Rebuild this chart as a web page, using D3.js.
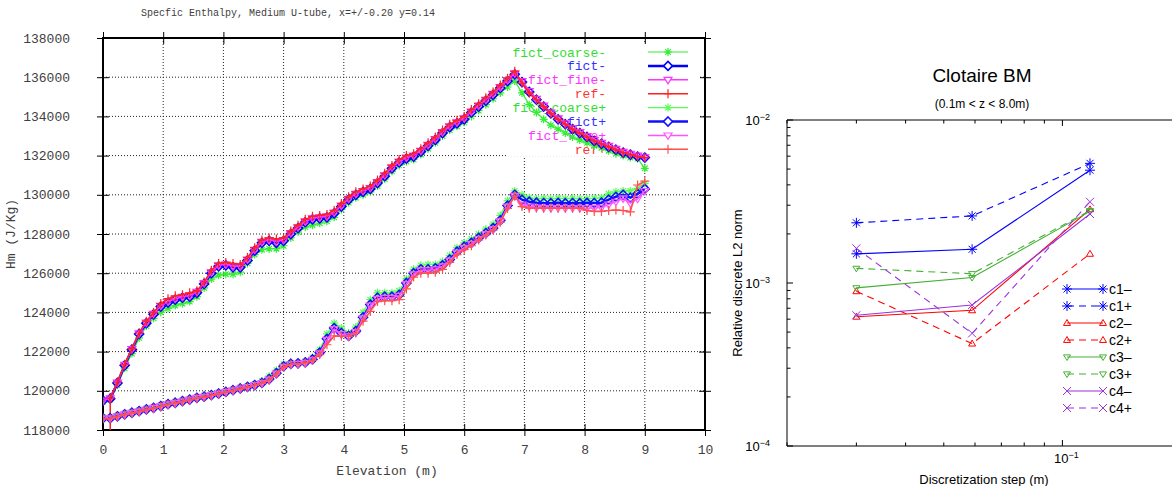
<!DOCTYPE html>
<html>
<head>
<meta charset="utf-8">
<script src="https://cdn.jsdelivr.net/npm/d3@7"></script>
<style>
  body { margin: 0; background: #fff; }
  .mono text, text.mono { font-family: "Liberation Mono", "DejaVu Sans Mono", monospace; }
  .sans text, text.sans { font-family: "Liberation Sans", Arial, sans-serif; }
</style>
</head>
<body>
<div id="chart"></div>
<script>
// ---------- left panel data: specific enthalpy vs elevation ----------
const elevation = [0,0.12,0.24,0.36,0.48,0.6,0.72,0.84,0.96,1.08,1.2,1.32,1.44,1.56,1.68,1.8,1.92,2.04,2.16,2.28,
  2.4,2.52,2.64,2.76,2.88,3,3.12,3.24,3.36,3.48,3.6,3.72,3.84,3.96,4.08,4.2,4.32,4.44,4.56,4.68,
  4.8,4.92,5.04,5.16,5.28,5.4,5.52,5.64,5.76,5.88,6,6.12,6.24,6.36,6.48,6.6,6.72,6.84,6.96,7.08,
  7.2,7.32,7.44,7.56,7.68,7.8,7.92,8.04,8.16,8.28,8.4,8.52,8.64,8.76,8.88,9];
// ref- starts with a point below the axis at z = 0.12
const elevationRef = [0.12,0.12,0.24,0.36,0.48,0.6,0.72,0.84,0.96,1.08,1.2,1.32,1.44,1.56,1.68,1.8,1.92,2.04,2.16,2.28,
  2.4,2.52,2.64,2.76,2.88,3,3.12,3.24,3.36,3.48,3.6,3.72,3.84,3.96,4.08,4.2,4.32,4.44,4.56,4.68,
  4.8,4.92,5.04,5.16,5.28,5.4,5.52,5.64,5.76,5.88,6,6.12,6.24,6.36,6.48,6.6,6.72,6.84,6.96,7.08,
  7.2,7.32,7.44,7.56,7.68,7.8,7.92,8.04,8.16,8.28,8.4,8.52,8.64,8.76,8.88,9];

const fictCoarseMinus = [119450,119550,120300,121150,121900,122700,123300,123700,124000,124200,124350,124450,124550,124800,125250,125700,125900,125950,125950,126050,
  126500,126950,127200,127250,127250,127400,127800,128100,128350,128450,128550,128650,128850,129250,129600,129850,130000,130150,130450,130800,
  131200,131500,131700,131800,132050,132350,132650,133000,133300,133500,133700,134000,134300,134600,134900,135200,135500,135800,135200,134600,
  134200,133850,133550,133350,133150,132950,132800,132650,132500,132400,132250,132100,132000,131900,131850,131350];
const fictMinus = [119500,119600,120400,121300,122100,122900,123450,123900,124300,124500,124650,124750,124800,125000,125450,126000,126350,126400,126300,126300,
  126650,127150,127550,127650,127550,127650,128000,128300,128600,128750,128800,128850,129050,129400,129750,130000,130150,130300,130600,130950,
  131350,131650,131850,131950,132200,132500,132800,133150,133450,133650,133850,134200,134500,134800,135100,135450,135800,136150,135750,135250,
  134850,134500,134150,133850,133600,133350,133150,132950,132750,132600,132450,132300,132150,132050,131950,131900];
const fictFineMinus = [119500,119620,120420,121330,122130,122930,123480,123930,124340,124560,124700,124800,124860,125050,125500,126050,126400,126450,126350,126350,
  126700,127200,127600,127700,127620,127700,128050,128350,128650,128800,128850,128900,129100,129450,129800,130050,130200,130350,130650,131000,
  131400,131700,131900,132000,132250,132550,132850,133200,133500,133700,133900,134250,134550,134850,135150,135500,135850,136200,135800,135300,
  134900,134550,134200,133900,133650,133400,133200,133000,132800,132650,132500,132350,132200,132100,132000,131920];
const refMinus = [116000,119620,120450,121350,122150,122950,123550,124000,124450,124700,124850,124900,125000,125100,125550,126150,126500,126550,126500,126450,
  126800,127300,127700,127800,127750,127800,128150,128450,128750,128900,128950,129000,129200,129550,129900,130150,130300,130450,130750,131100,
  131500,131800,132000,132100,132350,132650,132950,133300,133600,133800,134000,134350,134650,134950,135250,135600,135950,136300,135700,135200,
  134850,134500,134150,133850,133600,133350,133150,132950,132750,132600,132450,132300,132150,132050,131950,131900];

const fictCoarsePlus = [118650,118650,118750,118850,118930,119010,119100,119180,119270,119370,119440,119520,119600,119690,119750,119830,119910,120000,120080,120170,
  120250,120350,120500,120750,121050,121350,121420,121430,121500,121700,122100,122900,123450,123200,122950,123250,124000,124650,125000,125000,
  125000,125100,125700,126200,126400,126450,126450,126600,126900,127300,127550,127750,128000,128250,128500,128950,129700,130200,130000,129850,
  129800,129820,129800,129820,129800,129820,129800,129800,129820,129850,130050,130150,130200,130200,130320,130580];
const fictPlus = [118600,118600,118700,118800,118880,118960,119050,119130,119220,119320,119390,119470,119550,119640,119700,119780,119860,119950,120030,120120,
  120200,120290,120400,120600,120900,121250,121380,121400,121450,121600,121950,122650,123200,122950,122800,123050,123750,124400,124750,124800,
  124800,124900,125500,126000,126200,126200,126250,126400,126700,127100,127350,127550,127800,128050,128300,128700,129450,130000,129750,129650,
  129600,129580,129570,129590,129570,129580,129570,129590,129580,129600,129750,129900,130000,129850,130050,130300];
const fictFinePlus = [118600,118600,118700,118800,118880,118960,119050,119130,119220,119320,119390,119470,119550,119640,119700,119780,119860,119950,120030,120120,
  120200,120290,120400,120580,120880,121230,121360,121380,121430,121580,121920,122600,123150,122900,122780,123000,123700,124350,124700,124750,
  124750,124850,125450,125950,126150,126150,126200,126350,126650,127050,127300,127500,127750,128000,128250,128650,129400,129950,129500,129400,
  129350,129330,129320,129330,129320,129330,129320,129320,129330,129350,129500,129650,129820,129570,129800,130200];
const refPlus = [118580,118580,118680,118780,118860,118940,119030,119110,119200,119300,119370,119450,119530,119620,119680,119760,119840,119930,120010,120100,
  120180,120270,120380,120550,120850,121200,121350,121370,121420,121550,121850,122350,122800,122780,122780,122950,123550,124050,124550,124600,
  124600,124650,125200,125800,126000,126000,126050,126200,126550,126950,127200,127400,127700,127950,128200,128600,129300,129950,129400,129320,
  129330,129320,129330,129320,129330,129320,129330,129200,129150,129150,129200,129220,129200,129130,130500,130700];

const leftNames = ["fict_coarse-", "fict-", "fict_fine-", "ref-", "fict_coarse+", "fict+", "fict_fine+", "ref+"];

// ---------- right panel data: convergence study ----------
const steps = [0.03, 0.059, 0.1175];
const c1Minus = [1.51e-3, 1.61e-3, 4.92e-3];
const c1Plus  = [2.34e-3, 2.58e-3, 5.42e-3];
const c2Minus = [6.21e-4, 6.80e-4, 2.83e-3];
const c2Plus  = [8.90e-4, 4.25e-4, 1.51e-3];
const c3Minus = [9.34e-4, 1.08e-3, 2.75e-3];
const c3Plus  = [1.23e-3, 1.14e-3, 2.78e-3];
const c4Minus = [6.34e-4, 7.33e-4, 2.65e-3];
const c4Plus  = [1.63e-3, 4.91e-4, 3.15e-3];
const rightNames = ["c1\u2013", "c1+", "c2\u2013", "c2+", "c3\u2013", "c3+", "c4\u2013", "c4+"];

// ---------- marker shapes ----------
function sym(kind, s) {
  const a = s * 0.7;
  switch (kind) {
    case "star": return `M${-s},0H${s}M0,${-s}V${s}M${-a},${-a}L${a},${a}M${-a},${a}L${a},${-a}`;
    case "diamond": return `M0,${-s}L${s},0L0,${s}L${-s},0Z`;
    case "tridown": return `M${-s},${-s * 0.6}L${s},${-s * 0.6}L0,${s}Z`;
    case "triup": return `M0,${-s}L${s},${s * 0.7}L${-s},${s * 0.7}Z`;
    case "plus": return `M${-s},0H${s}M0,${-s}V${s}`;
    case "cross": return `M${-s},${-s}L${s},${s}M${-s},${s}L${s},${-s}`;
  }
}

const svg = d3.select("#chart").append("svg")
  .attr("width", 1172).attr("height", 486)
  .style("display", "block");

// ================= LEFT PANEL =================
const L = svg.append("g").attr("class", "mono");
const xL = d3.scaleLinear().domain([0, 10]).range([103, 705]);
const yL = d3.scaleLinear().domain([118000, 138000]).range([430, 38]);
const tickColor = "#404040";

L.append("text")
  .attr("x", 288).attr("y", 16)
  .attr("text-anchor", "middle")
  .style("font-size", "10px").style("fill", tickColor)
  .text("Specfic Enthalpy, Medium U-tube, x=+/-0.20 y=0.14");

// grid
L.append("g").selectAll("line").data(xL.ticks(10).filter(d => d > 0 && d < 10)).enter().append("line")
  .attr("x1", d => xL(d)).attr("x2", d => xL(d)).attr("y1", 38).attr("y2", 430)
  .attr("stroke", "#222").attr("stroke-dasharray", "1,2");
L.append("g").selectAll("line").data(yL.ticks(10).filter(d => d > 118000 && d < 138000)).enter().append("line")
  .attr("x1", 103).attr("x2", 705).attr("y1", d => yL(d)).attr("y2", d => yL(d))
  .attr("stroke", "#222").attr("stroke-dasharray", "1,2");

// axes (ticks crossing the border)
function styleAxis(g) {
  g.select(".domain").remove();
  g.selectAll(".tick line").attr("stroke", "#000");
  g.selectAll(".tick text").style("font-size", "13px").style("fill", tickColor)
    .style("font-family", '"Liberation Mono", monospace');
}
L.append("g").attr("transform", "translate(0,424)")
  .call(d3.axisBottom(xL).ticks(10).tickSize(12).tickPadding(9)).call(styleAxis);
L.append("g").attr("transform", "translate(0,32)")
  .call(d3.axisBottom(xL).ticks(10).tickSize(12).tickFormat("")).call(styleAxis);
L.append("g").attr("transform", "translate(109,0)")
  .call(d3.axisLeft(yL).ticks(10).tickSize(12).tickPadding(27).tickFormat(d3.format("d"))).call(styleAxis);
L.append("g").attr("transform", "translate(699,0)")
  .call(d3.axisRight(yL).ticks(10).tickSize(12).tickFormat("")).call(styleAxis);

L.append("rect").attr("x", 103).attr("y", 38).attr("width", 602).attr("height", 392)
  .attr("fill", "none").attr("stroke", "#000").attr("stroke-width", 2);

L.append("text").attr("x", 387).attr("y", 475).attr("text-anchor", "middle")
  .style("font-size", "13px").style("fill", tickColor).text("Elevation (m)");
L.append("text").attr("transform", "translate(15,234) rotate(-90)").attr("text-anchor", "middle")
  .style("font-size", "13px").style("fill", tickColor).text("Hm (J/Kg)");

// series styles
const leftSeries = [
  { name: leftNames[0], x: elevation, y: fictCoarseMinus, color: "#33ee33", text: "#33dd33", sym: "star", size: 4, lw: 1.2 },
  { name: leftNames[1], x: elevation, y: fictMinus, color: "#0000ff", text: "#3333ff", sym: "diamond", size: 4.5, lw: 2.5 },
  { name: leftNames[2], x: elevation, y: fictFineMinus, color: "#ff33ff", text: "#ff33ff", sym: "tridown", size: 4, lw: 1.5 },
  { name: leftNames[3], x: elevationRef, y: refMinus, color: "#ff2020", text: "#ff3333", sym: "plus", size: 4.5, lw: 1.5 },
  { name: leftNames[4], x: elevation, y: fictCoarsePlus, color: "#55ff55", text: "#33dd33", sym: "star", size: 4, lw: 1.2 },
  { name: leftNames[5], x: elevation, y: fictPlus, color: "#1010ff", text: "#3333ff", sym: "diamond", size: 4.5, lw: 2.5 },
  { name: leftNames[6], x: elevation, y: fictFinePlus, color: "#ff55ff", text: "#ff33ff", sym: "tridown", size: 4, lw: 1.5 },
  { name: leftNames[7], x: elevation, y: refPlus, color: "#ff5050", text: "#ff3333", sym: "plus", size: 4.5, lw: 1.5 }
];

// opaque key box
L.append("rect").attr("x", 507).attr("y", 44).attr("width", 193).attr("height", 112).attr("fill", "#fff");
leftSeries.forEach((s, i) => {
  const y = 52 + i * 13.9;
  L.append("text").attr("x", 606).attr("y", y).attr("dy", "0.35em").attr("text-anchor", "end")
    .style("font-size", "13px").style("fill", s.text).text(s.name);
  L.append("line").attr("x1", 648).attr("x2", 688).attr("y1", y).attr("y2", y)
    .attr("stroke", s.color).attr("stroke-width", s.lw);
  L.append("path").attr("transform", `translate(668,${y})`).attr("d", sym(s.sym, s.size))
    .attr("fill", s.sym === "diamond" || s.sym === "tridown" ? "#fff" : "none")
    .attr("stroke", s.color).attr("stroke-width", s.sym === "diamond" ? 1.6 : 1.2);
});

// data
svg.append("defs").append("clipPath").attr("id", "clipL")
  .append("rect").attr("x", 103).attr("y", 38).attr("width", 602).attr("height", 392);
const dataL = L.append("g").attr("clip-path", "url(#clipL)");
const lineL = d3.line().x(d => xL(d[0])).y(d => yL(d[1]));
leftSeries.forEach(s => {
  const pts = s.x.map((x, i) => [x, s.y[i]]);
  dataL.append("path").datum(pts).attr("d", lineL)
    .attr("fill", "none").attr("stroke", s.color).attr("stroke-width", s.lw);
  dataL.selectAll(null).data(pts).enter().append("path")
    .attr("transform", d => `translate(${xL(d[0])},${yL(d[1])})`)
    .attr("d", sym(s.sym, s.size))
    .attr("fill", "none").attr("stroke", s.color).attr("stroke-width", s.sym === "diamond" ? 1.6 : 1.2);
});

// ================= RIGHT PANEL =================
const R = svg.append("g").attr("class", "sans");
const xR = d3.scaleLog().domain([0.02, 0.2]).range([787, 1181]);
const yR = d3.scaleLog().domain([1e-4, 1e-2]).range([446, 120]);

R.append("text").attr("x", 982).attr("y", 82).attr("text-anchor", "middle")
  .style("font-size", "19px").text("Clotaire BM");
R.append("text").attr("x", 982).attr("y", 108).attr("text-anchor", "middle")
  .style("font-size", "12px").text("(0.1m < z < 8.0m)");

// frame
R.append("path").attr("d", `M1181,120H787V446H1181`).attr("fill", "none").attr("stroke", "#000");

const isMajor = v => Math.abs(Math.log10(v) - Math.round(Math.log10(v))) < 1e-9;
// y ticks inward on left
R.append("g").selectAll("line").data(yR.ticks()).enter().append("line")
  .attr("x1", 787).attr("x2", d => 787 + (isMajor(d) ? 6 : 3.5))
  .attr("y1", d => yR(d)).attr("y2", d => yR(d)).attr("stroke", "#000");
// x ticks inward on bottom and top
R.append("g").selectAll("line").data(xR.ticks()).enter().append("line")
  .attr("x1", d => xR(d)).attr("x2", d => xR(d))
  .attr("y1", 446).attr("y2", d => 446 - (isMajor(d) ? 6 : 3.5)).attr("stroke", "#000");
R.append("g").selectAll("line").data(xR.ticks()).enter().append("line")
  .attr("x1", d => xR(d)).attr("x2", d => xR(d))
  .attr("y1", 120).attr("y2", d => 120 + (isMajor(d) ? 6 : 3.5)).attr("stroke", "#000");

// power-of-ten labels
yR.ticks().filter(isMajor).forEach(v => {
  const t = R.append("text").attr("x", 770).attr("y", yR(v) + 5).attr("text-anchor", "end").style("font-size", "13px");
  t.append("tspan").text("10");
  t.append("tspan").attr("dy", "-0.55em").style("font-size", "9px").text("\u2212" + (-Math.round(Math.log10(v))));
});
xR.ticks().filter(isMajor).forEach(v => {
  const t = R.append("text").attr("x", xR(v) + 4).attr("y", 463).attr("text-anchor", "middle").style("font-size", "13px");
  t.append("tspan").text("10");
  t.append("tspan").attr("dy", "-0.55em").style("font-size", "9px").text("\u2212" + (-Math.round(Math.log10(v))));
});

R.append("text").attr("x", 984).attr("y", 484).attr("text-anchor", "middle")
  .style("font-size", "13px").text("Discretization step (m)");
R.append("text").attr("transform", "translate(742,283) rotate(-90)").attr("text-anchor", "middle")
  .style("font-size", "13px").text("Relative discrete L2 norm");

const blue = "#0000ff", red = "#ff0000", green = "#44b034", purple = "#9a33e0";
const rightSeries = [
  { name: rightNames[0], y: c1Minus, color: blue, sym: "star", size: 5, dash: null },
  { name: rightNames[1], y: c1Plus, color: blue, sym: "star", size: 5, dash: "7,5" },
  { name: rightNames[2], y: c2Minus, color: red, sym: "triup", size: 3.5, dash: null },
  { name: rightNames[3], y: c2Plus, color: red, sym: "triup", size: 3.5, dash: "7,5" },
  { name: rightNames[4], y: c3Minus, color: green, sym: "tridown", size: 3.5, dash: null },
  { name: rightNames[5], y: c3Plus, color: green, sym: "tridown", size: 3.5, dash: "7,5" },
  { name: rightNames[6], y: c4Minus, color: purple, sym: "cross", size: 4, dash: null },
  { name: rightNames[7], y: c4Plus, color: purple, sym: "cross", size: 4, dash: "7,5" }
];
const lineR = d3.line().x(d => xR(d[0])).y(d => yR(d[1]));
rightSeries.forEach((s, i) => {
  const pts = steps.map((x, k) => [x, s.y[k]]);
  R.append("path").datum(pts).attr("d", lineR).attr("fill", "none")
    .attr("stroke", s.color).attr("stroke-width", 1.1).attr("stroke-dasharray", s.dash);
  R.selectAll(null).data(pts).enter().append("path")
    .attr("transform", d => `translate(${xR(d[0])},${yR(d[1])})`)
    .attr("d", sym(s.sym, s.size)).attr("fill", "none").attr("stroke", s.color).attr("stroke-width", 1);
  // legend
  const ly = 289 + i * 17;
  R.append("line").attr("x1", 1067).attr("x2", 1103).attr("y1", ly).attr("y2", ly)
    .attr("stroke", s.color).attr("stroke-width", 1.1).attr("stroke-dasharray", s.dash);
  [1067, 1103].forEach(lx => R.append("path").attr("transform", `translate(${lx},${ly})`)
    .attr("d", sym(s.sym, s.size)).attr("fill", "none").attr("stroke", s.color).attr("stroke-width", 1));
  R.append("text").attr("x", 1109).attr("y", ly).attr("dy", "0.36em")
    .style("font-size", "14px").text(s.name);
});
</script>
</body>
</html>
